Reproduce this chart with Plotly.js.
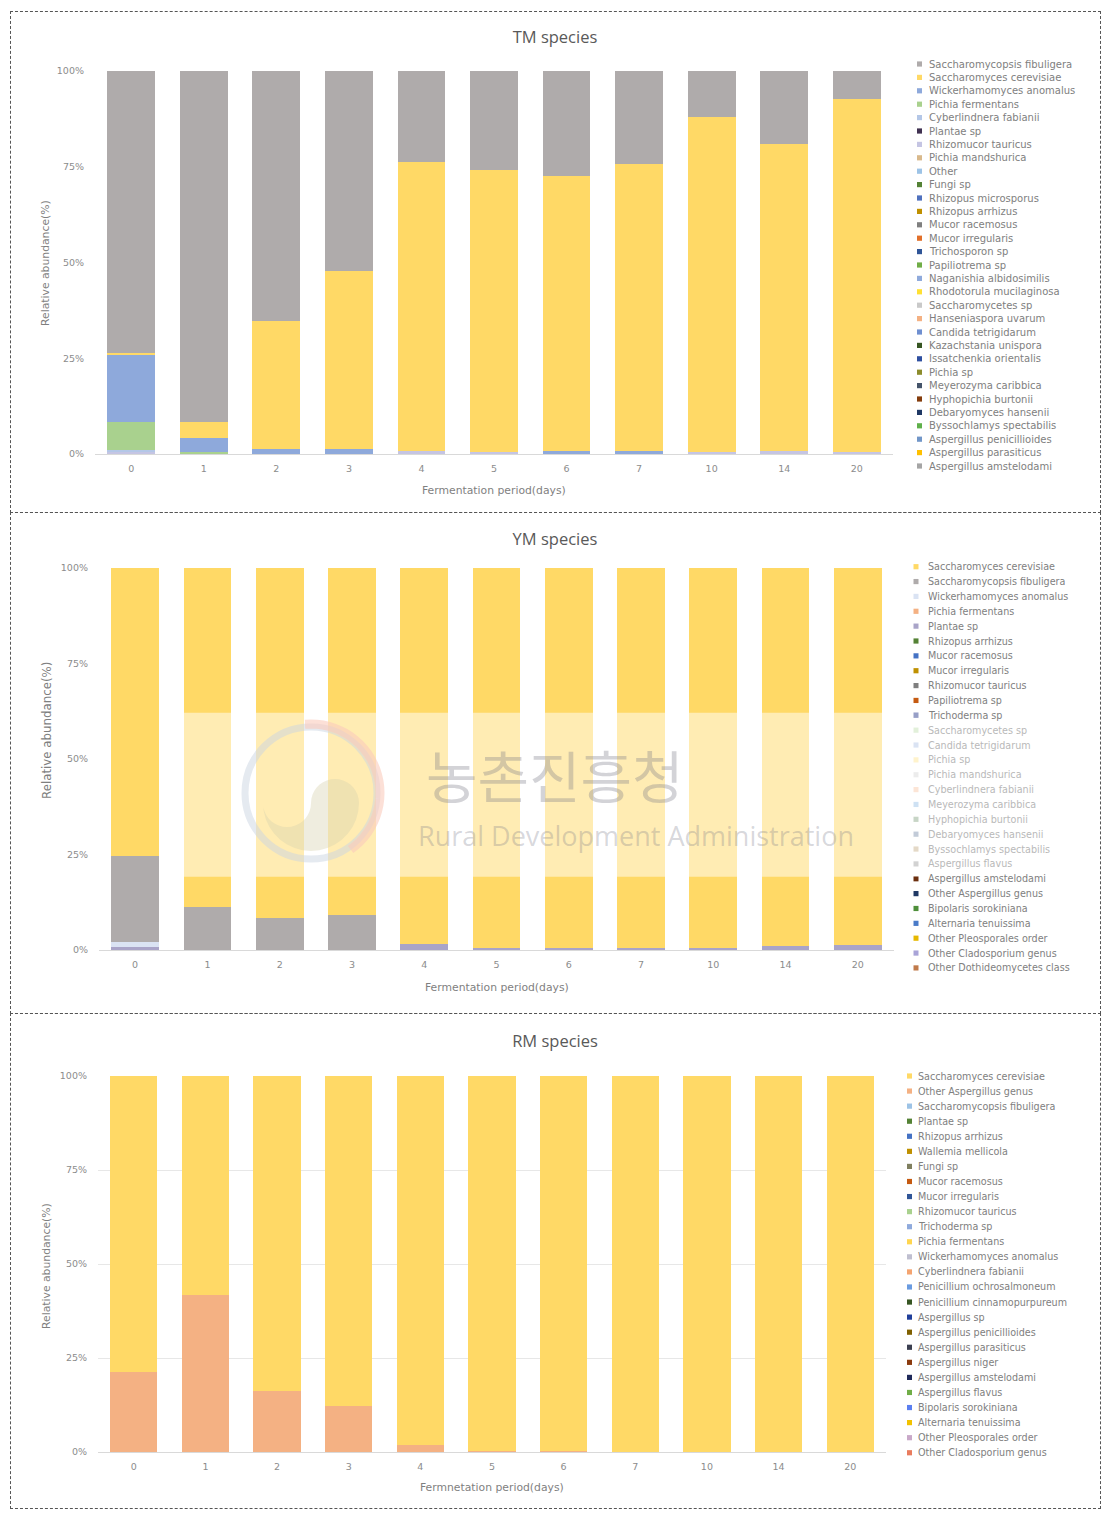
<!DOCTYPE html>
<html><head><meta charset="utf-8">
<script src="https://cdn.plot.ly/plotly-3.0.1.min.js"></script>
<style>
html,body{margin:0;padding:0;background:#fff;}
#page{position:relative;width:1111px;height:1513px;overflow:hidden;background:#fff;}
.plot{position:absolute;left:0;width:1111px;}
.box{position:absolute;left:10px;width:1091px;border:1px dashed #555;box-sizing:border-box;pointer-events:none;z-index:5;}
</style></head><body>
<div id="page">
<div id="tm" class="plot" style="top:0;height:512px"></div>
<div id="ym" class="plot" style="top:512px;height:501px"></div>
<div id="rm" class="plot" style="top:1013px;height:500px"></div>
<div class="box" style="top:11px;height:502px"></div>
<div class="box" style="top:512px;height:502px"></div>
<div class="box" style="top:1013px;height:496px"></div>
</div>
<script>
// ---------- categories ----------
const days = ['0','1','2','3','4','5','6','7','10','14','20'];
const yTickVals = [0,25,50,75,100];
const yTickText = ['0%','25%','50%','75%','100%'];

// ---------- TM species ----------
const tmNames = ['Saccharomycopsis fibuligera','Saccharomyces cerevisiae','Wickerhamomyces anomalus','Pichia fermentans','Cyberlindnera fabianii','Plantae sp','Rhizomucor tauricus','Pichia mandshurica','Other','Fungi sp','Rhizopus microsporus','Rhizopus arrhizus','Mucor racemosus','Mucor irregularis','Trichosporon sp','Papiliotrema sp','Naganishia albidosimilis','Rhodotorula mucilaginosa','Saccharomycetes sp','Hanseniaspora uvarum','Candida tetrigidarum','Kazachstania unispora','Issatchenkia orientalis','Pichia sp','Meyerozyma caribbica','Hyphopichia burtonii','Debaryomyces hansenii','Byssochlamys spectabilis','Aspergillus penicillioides','Aspergillus parasiticus','Aspergillus amstelodami'];
const tmColors = ['#AFABAB','#FFD966','#8EA9DB','#A9D18E','#B4C7E7','#403151','#C5C5E3','#D9B98C','#9DC3E6','#548235','#4F71BE','#BF9000','#7F7F7F','#E2702A','#2F5597','#70AD47','#8FAADC','#FFE033','#C9C9C9','#F4B183','#6F8FD0','#375623','#2E4FA0','#8C8C2C','#44546A','#843C0C','#1F3864','#5FB04A','#7196C8','#FFC000','#A5A5A5'];
const tmFibuligera      = [73.7, 91.6, 65.2, 52.3, 23.7, 25.9, 27.4, 24.2, 12.0, 19.1, 7.2];
const tmCerevisiae      = [0.5, 4.1, 33.6, 46.5, 75.6, 73.5, 71.8, 75.1, 87.4, 80.1, 92.3];
const tmWickerhamomyces = [17.4, 3.8, 1.2, 1.2, 0, 0, 0.8, 0.7, 0, 0, 0];
const tmPichiaFermentans= [7.4, 0.5, 0, 0, 0, 0, 0, 0, 0, 0, 0];
const tmCyberlindnera   = [0.4, 0, 0, 0, 0, 0, 0, 0, 0, 0, 0];
const tmRhizomucor      = [0.6, 0, 0, 0, 0.7, 0.6, 0, 0, 0.6, 0.8, 0.5];

// ---------- YM species ----------
const ymNames = ['Saccharomyces cerevisiae','Saccharomycopsis fibuligera','Wickerhamomyces anomalus','Pichia fermentans','Plantae sp','Rhizopus arrhizus','Mucor racemosus','Mucor irregularis','Rhizomucor tauricus','Papiliotrema sp','Trichoderma sp','Saccharomycetes sp','Candida tetrigidarum','Pichia sp','Pichia mandshurica','Cyberlindnera fabianii','Meyerozyma caribbica','Hyphopichia burtonii','Debaryomyces hansenii','Byssochlamys spectabilis','Aspergillus flavus','Aspergillus amstelodami','Other Aspergillus genus','Bipolaris sorokiniana','Alternaria tenuissima','Other Pleosporales order','Other Cladosporium genus','Other Dothideomycetes class'];
const ymColors = ['#FFD966','#AFABAB','#DAE3F3','#F4B183','#A9A4C8','#548235','#4472C4','#BF9000','#7F7F7F','#C55A11','#2F3F8F','#C5E0B4','#B4C7E7','#FFE699','#D9D9D9','#F8CBAD','#9DC3E6','#8FAA8C','#8497B0','#C9B38F','#A5A5A5','#6B2E0E','#1F3864','#4E8F3A','#4A7BC8','#E6B800','#A9A4D8','#C07A4A'];
const ymCerevisiae   = [75.4, 88.7, 91.7, 90.8, 98.5, 99.5, 99.4, 99.4, 99.4, 99.0, 98.8];
const ymFibuligera   = [22.5, 11.3, 8.3, 9.2, 0, 0, 0, 0, 0, 0, 0];
const ymWickerhamomyces = [1.3, 0, 0, 0, 0, 0, 0, 0, 0, 0, 0];
const ymPlantae      = [0.8, 0, 0, 0, 1.5, 0.5, 0.6, 0.6, 0.6, 1.0, 1.2];

// ---------- RM species ----------
const rmNames = ['Saccharomyces cerevisiae','Other Aspergillus genus','Saccharomycopsis fibuligera','Plantae sp','Rhizopus arrhizus','Wallemia mellicola','Fungi sp','Mucor racemosus','Mucor irregularis','Rhizomucor tauricus','Trichoderma sp','Pichia fermentans','Wickerhamomyces anomalus','Cyberlindnera fabianii','Penicillium ochrosalmoneum','Penicillium cinnamopurpureum','Aspergillus sp','Aspergillus penicillioides','Aspergillus parasiticus','Aspergillus niger','Aspergillus amstelodami','Aspergillus flavus','Bipolaris sorokiniana','Alternaria tenuissima','Other Pleosporales order','Other Cladosporium genus'];
const rmColors = ['#FFD966','#F4B183','#9DC3E6','#548235','#4472C4','#BF9000','#7F7F5F','#C55A11','#2F5597','#A9D18E','#8FAADC','#FFD54F','#BFBFD0','#F4A470','#6A9BE0','#375623','#203F9A','#7F6000','#3B3F50','#8B3A0E','#1F2A5A','#70AD47','#5B7FF0','#F2C200','#C9A9C9','#E97C5E'];
const rmCerevisiae   = [78.8, 58.2, 83.9, 87.7, 98.1, 99.7, 99.7, 100, 100, 100, 100];
const rmOtherAspergillus = [21.2, 41.8, 16.1, 12.3, 1.9, 0.3, 0.3, 0, 0, 0, 0];

const FONT = 'Open Sans, Noto Sans, sans-serif';
const WFONT = 'DejaVu Sans, Verdana, sans-serif';

function buildPanel(P) {
  const W = 1111, H = P.H;
  const pw = W - P.l - P.r, ph = H - P.t - P.b;
  const px = X => (X - P.l) / pw;
  const py = Y => (H - P.b - Y) / ph;
  const traces = [];
  for (let i = P.names.length - 1; i >= 0; i--) {
    const vals = P.values[P.names[i]];
    if (!vals) continue;
    traces.push({type:'bar', x: days, y: vals, name: P.names[i],
      marker:{color:P.colors[i], line:{width:0}}, showlegend:false,
      hovertemplate:'%{x}: %{y:.1f}%<extra>' + P.names[i] + '</extra>'});
  }
  const shapes = [], annotations = [];
  const band = P.band;
  P.names.forEach((n, i) => {
    const Y = P.legY0 + i * P.legDy;
    shapes.push({type:'rect', xref:'paper', yref:'paper', x0:px(P.mk0), x1:px(P.mk1),
      y0:py(Y + 2.6), y1:py(Y - 2.6), fillcolor:P.colors[i], line:{width:0}, layer:'above'});
    const faded = band && Y > band.y0 + 5 && Y < band.y1;
    annotations.push({xref:'paper', yref:'paper', x:px(P.txtX), y:py(Y), xanchor:'left', yanchor:'middle',
      text:n, showarrow:false, opacity: faded ? 0.55 : 1,
      font:{family:WFONT, size:P.legSize, color:'#808080'}});
  });
  // axis titles
  annotations.push({xref:'paper', yref:'paper', x:0.5, y:py(P.xTitleY), xanchor:'center', yanchor:'middle',
    text:P.xTitle, showarrow:false, font:{family:WFONT, size:10.8, color:'#7f7f7f'}});
  annotations.push({xref:'paper', yref:'paper', x:px(P.yTitleX), y:py(P.yTitleY), xanchor:'center', yanchor:'middle',
    text:'Relative abundance(%)', textangle:-90, showarrow:false, font:{family:WFONT, size:P.yTitleSize, color:'#7f7f7f'}});

  if (band) {
    // watermark: logo, translucent band, text
    const cx = band.logoX, cy = band.logoY;
    const ringR = 66;
    shapes.push({type:'circle', xref:'paper', yref:'paper', x0:px(cx-ringR), x1:px(cx+ringR), y0:py(cy+ringR), y1:py(cy-ringR),
      line:{color:'rgba(150,170,195,0.5)', width:7}, layer:'above'});
    let arc = [];
    for (let a = 95; a >= -55; a -= 5) {
      const t = a * Math.PI / 180;
      arc.push((arc.length ? 'L' : 'M') + px(cx + 69*Math.cos(t)) + ',' + py(cy - 69*Math.sin(t)));
    }
    shapes.push({type:'path', xref:'paper', yref:'paper', path:arc.join(' '),
      line:{color:'rgba(245,150,120,0.6)', width:9}, layer:'above'});
    const R = 48, ccy = cy + 10;
    let c = [];
    const pt = (X, Y) => (c.length ? 'L' : 'M') + px(X) + ',' + py(Y);
    for (let s = 0; s <= 180; s += 10) { const t = (180 - s) * Math.PI/180; c.push(pt(cx + R*Math.cos(t), ccy + R*Math.sin(t))); }
    for (let s = 0; s <= 180; s += 10) { const t = -s * Math.PI/180; c.push(pt(cx + R/2 + R/2*Math.cos(t), ccy + R/2*Math.sin(t))); }
    for (let s = 0; s <= 180; s += 10) { const t = s * Math.PI/180; c.push(pt(cx - R/2 + R/2*Math.cos(t), ccy + R/2*Math.sin(t))); }
    shapes.push({type:'path', xref:'paper', yref:'paper', path:c.join(' ') + ' Z',
      fillcolor:'rgba(175,165,95,0.4)', line:{width:0}, layer:'above'});
    shapes.push({type:'rect', xref:'paper', yref:'paper', x0:px(band.x0), x1:px(band.x1), y0:py(band.y1), y1:py(band.y0),
      fillcolor:'rgba(255,255,255,0.5)', line:{width:0}, layer:'above'});
    annotations.push({xref:'paper', yref:'paper', x:px(555), y:py(band.korY), xanchor:'center', yanchor:'middle',
      text:'농촌진흥청', showarrow:false, font:{family:'Noto Sans CJK KR, sans-serif', size:56, color:'rgba(120,120,135,0.33)'}});
    annotations.push({xref:'paper', yref:'paper', x:px(636), y:py(band.engY), xanchor:'center', yanchor:'middle',
      text:'Rural Development Administration', showarrow:false, font:{family:FONT, size:27, color:'rgba(120,120,135,0.3)'}});
  }

  const layout = {
    width: W, height: H,
    margin:{l:P.l, r:P.r, t:P.t, b:P.b, autoexpand:false},
    paper_bgcolor:'#ffffff', plot_bgcolor:'#ffffff',
    barmode:'stack', bargap:0.34,
    showlegend:false,
    font:{family:FONT, color:'#7f7f7f'},
    title:{text:P.title, font:{family:FONT, size:16.5, color:'#595959'}, x:555/W, xref:'container', xanchor:'center',
      y:1 - P.titleY/H, yref:'container', yanchor:'middle'},
    xaxis:{type:'category', categoryorder:'array', categoryarray:days, showgrid:false, zeroline:false,
      showline:true, linecolor:'#D9D9D9', linewidth:1, ticks:'', ticklabelstandoff:6,
      tickfont:{family:WFONT, size:9.5, color:'#8c8c8c'}, fixedrange:true},
    yaxis:{range:[0,100], tickvals:yTickVals, ticktext:yTickText, showgrid:P.grid, gridcolor:'#E7E7E7', gridwidth:1,
      zeroline:false, showline:false, ticks:'', ticklabelstandoff:10,
      tickfont:{family:WFONT, size:9.5, color:'#8c8c8c'}, fixedrange:true},
    shapes: shapes, annotations: annotations
  };
  Plotly.newPlot(P.div, traces, layout, {staticPlot:true, displayModeBar:false});
}

buildPanel({div:'tm', H:512, l:95, r:218, t:71, b:58, title:'TM species', titleY:37,
  xTitle:'Fermentation period(days)', xTitleY:490, yTitleX:45, yTitleY:263, yTitleSize:10.8,
  names:tmNames, colors:tmColors, legSize:10,
  values:{'Saccharomycopsis fibuligera':tmFibuligera, 'Saccharomyces cerevisiae':tmCerevisiae,
    'Wickerhamomyces anomalus':tmWickerhamomyces, 'Pichia fermentans':tmPichiaFermentans,
    'Cyberlindnera fabianii':tmCyberlindnera, 'Rhizomucor tauricus':tmRhizomucor},
  legY0:64, legDy:13.4, mk0:917, mk1:922, txtX:927, grid:false});

buildPanel({div:'ym', H:501, l:99, r:217, t:56, b:63, title:'YM species', titleY:27,
  xTitle:'Fermentation period(days)', xTitleY:475, yTitleX:47, yTitleY:219, yTitleSize:11.8,
  names:ymNames, colors:ymColors, legSize:9.6,
  values:{'Saccharomyces cerevisiae':ymCerevisiae, 'Saccharomycopsis fibuligera':ymFibuligera,
    'Wickerhamomyces anomalus':ymWickerhamomyces, 'Plantae sp':ymPlantae},
  legY0:54.7, legDy:14.86, mk0:913.5, mk1:918.5, txtX:926, grid:false,
  band:{x0:183, x1:1090, y0:200.7, y1:364.7, logoX:311, logoY:281, korY:261, engY:323}});

buildPanel({div:'rm', H:500, l:98, r:225, t:63, b:61, title:'RM species', titleY:28,
  xTitle:'Fermnetation period(days)', xTitleY:474, yTitleX:47, yTitleY:253, yTitleSize:10.8,
  names:rmNames, colors:rmColors, legSize:9.6,
  values:{'Saccharomyces cerevisiae':rmCerevisiae, 'Other Aspergillus genus':rmOtherAspergillus},
  legY0:63, legDy:15.07, mk0:907, mk1:912, txtX:916, grid:true});
</script></body></html>
